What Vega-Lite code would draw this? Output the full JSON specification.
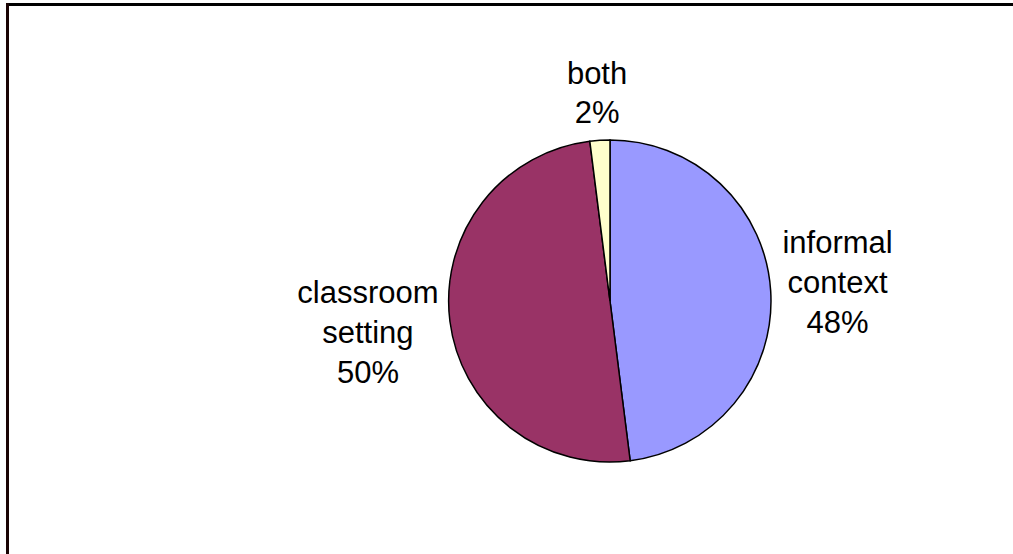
{
  "$schema": "https://vega.github.io/schema/vega-lite/v6.json",
  "width": 1013,
  "height": 554,
  "autosize": {"type": "fit", "contains": "padding"},
  "padding": {"left": 7, "top": 4, "right": 0, "bottom": 0},
  "background": "white",
  "config": {"view": {"stroke": null}},
  "data": {
    "values": [
      {"category": "informal context", "percent": 48, "label": "informal\ncontext\n48%"},
      {"category": "classroom setting", "percent": 50, "label": "classroom\nsetting\n50%"},
      {"category": "both", "percent": 2, "label": "both\n2%"}
    ]
  },
  "encoding": {
    "theta": {"field": "percent", "type": "quantitative", "stack": true},
    "order": {"field": "category", "sort": "descending"},
    "x": {
      "datum": 603,
      "type": "quantitative",
      "scale": {"domain": [0, 1006], "nice": false, "zero": false},
      "axis": {"orient": "top", "domain": true, "domainColor": "#000000", "domainWidth": 3, "domainCap": "square", "ticks": false, "labels": false, "grid": false, "title": null}
    },
    "y": {
      "datum": 297,
      "type": "quantitative",
      "scale": {"domain": [0, 550], "reverse": true, "nice": false, "zero": false},
      "axis": {"orient": "left", "domain": true, "domainColor": "#1a0404", "domainWidth": 3, "domainCap": "square", "ticks": false, "labels": false, "grid": false, "title": null}
    }
  },
  "layer": [
    {
      "mark": {"type": "arc", "outerRadius": 161, "stroke": "black", "strokeWidth": 1.5},
      "encoding": {
        "color": {
          "field": "category",
          "type": "nominal",
          "scale": {"domain": ["informal context", "classroom setting", "both"], "range": ["#9999FF", "#993366", "#FFFFCC"]},
          "legend": null
        }
      }
    },
    {
      "mark": {"type": "text", "radius": 228, "dy": -43, "font": "Liberation Sans", "fontSize": 31, "lineHeight": 40, "lineBreak": "\n", "align": "center", "baseline": "middle", "color": "black"},
      "encoding": {
        "text": {"condition": {"test": "datum.category === 'informal context'", "field": "label"}, "value": ""}
      }
    },
    {
      "mark": {"type": "text", "radius": 244, "dy": -38, "font": "Liberation Sans", "fontSize": 31, "lineHeight": 40, "lineBreak": "\n", "align": "center", "baseline": "middle", "color": "black"},
      "encoding": {
        "text": {"condition": {"test": "datum.category === 'classroom setting'", "field": "label"}, "value": ""}
      }
    },
    {
      "mark": {"type": "text", "radius": 206, "dy": -20, "font": "Liberation Sans", "fontSize": 31, "lineHeight": 39, "lineBreak": "\n", "align": "center", "baseline": "middle", "color": "black"},
      "encoding": {
        "text": {"condition": {"test": "datum.category === 'both'", "field": "label"}, "value": ""}
      }
    }
  ]
}
